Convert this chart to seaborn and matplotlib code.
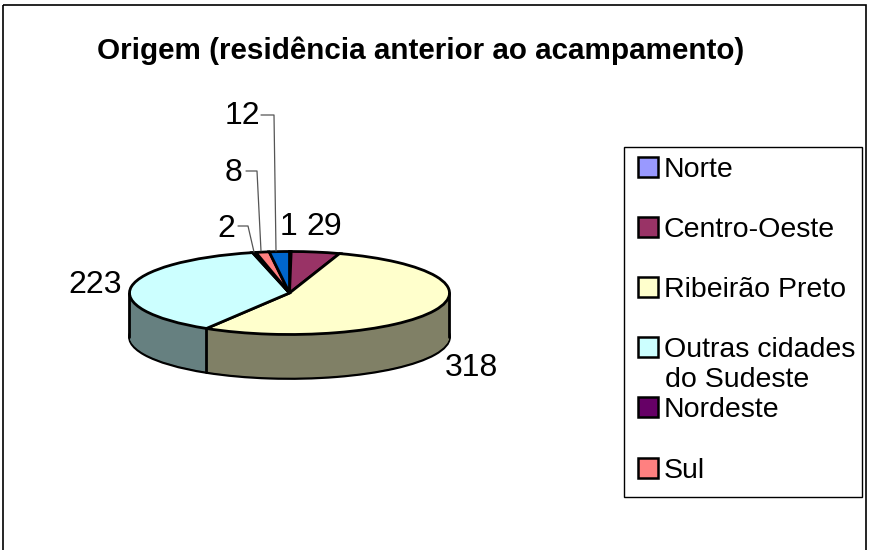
import numpy as np
import matplotlib
matplotlib.use("Agg")
import matplotlib.pyplot as plt
from matplotlib.patches import Rectangle
import seaborn as sns

title = "Origem (residência anterior ao acampamento)"
categories = ["Norte", "Centro-Oeste", "Ribeirão Preto", "Outras cidades", "Nordeste", "Sul", ""]
values = [1, 29, 318, 223, 2, 8, 12]
top_colors = ["#9999FF", "#993366", "#FFFFCC", "#CCFFFF", "#660066", "#FF8080", "#0066CC"]
side_colors = ["#4C4C80", "#4C1A33", "#808066", "#668080", "#330033", "#804040", "#003366"]

W, H = 869, 550
CX, CY, RX, RY, DEPTH = 289.5, 293.0, 160.0, 41.5, 44.0

sns.set_theme(style="white")
plt.rcParams["font.family"] = ["Liberation Sans", "DejaVu Sans"]
FS_TITLE, FS_LEGEND, FS_LABEL = 21.3, 20.5, 23.0

fig = plt.figure(figsize=(W / 100, H / 100), dpi=100, facecolor="white")
ax = fig.add_axes([0, 0, 1, 1])
top_pal = sns.color_palette(top_colors)
side_pal = sns.color_palette(side_colors)
d = DEPTH / RY

# extruded wall: stacked pies
ax.pie(values, colors=side_pal, startangle=90, counterclock=False, center=(0, -d),
       wedgeprops=dict(edgecolor="black", linewidth=2))
for k in np.arange(d - 0.02, 0, -0.02):
    ax.pie(values, colors=side_pal, startangle=90, counterclock=False, center=(0, -k),
           wedgeprops=dict(linewidth=0))
# wall outlines
cum = np.cumsum(values) / np.sum(values) * 2 * np.pi
sep = cum[2]
ax.plot([np.sin(sep)] * 2, [np.cos(sep), np.cos(sep) - d], color="black", lw=2)
for sx in (-1, 1):
    ax.plot([sx, sx], [0, -d], color="black", lw=2)
wedges, _ = ax.pie(values, colors=top_pal, startangle=90, counterclock=False,
                   wedgeprops=dict(edgecolor="black", linewidth=2))
ax.set_aspect("auto")
ax.set_xlim(-CX / RX, (W - CX) / RX)
ax.set_ylim((CY - H) / RY, CY / RY)
ax.axis("off")

ov = fig.add_axes([0, 0, 1, 1], facecolor="none")
ov.set_xlim(0, W)
ov.set_ylim(H, 0)
ov.axis("off")

ov.add_patch(Rectangle((3, 5), 863, 560, fill=False, edgecolor="black", lw=1.2, clip_on=True))
ov.text(421, 51, title, ha="center", va="center", fontsize=FS_TITLE, fontweight="bold", color="black")

# data labels
labels = [("12", 242, 116), ("8", 234, 173), ("2", 226, 229), ("1", 288, 227),
          ("29", 324, 227), ("223", 95, 285), ("318", 471, 368)]
for s, x, y in labels:
    ov.text(x, y, s, ha="center", va="center", fontsize=FS_LABEL, color="black")
for xs, ys in [([261, 274, 276], [115, 115, 251]),
               ([246, 257, 261], [171, 171, 251]),
               ([238, 248, 254], [226, 226, 252])]:
    ov.plot(xs, ys, color="#555555", lw=0.9)

# legend
ov.add_patch(Rectangle((624, 147), 238, 350, facecolor="white", edgecolor="black", lw=1.0))
leg = ov.legend(wedges[:6], categories[:6], loc="upper left",
                bbox_to_anchor=(632, 151), bbox_transform=ov.transData,
                frameon=False, fontsize=FS_LEGEND, borderpad=0.2, borderaxespad=0,
                handlelength=0.72, handleheight=0.7, handletextpad=0.2,
                labelspacing=1.2, labelcolor="black")
for h in leg.legend_handles:
    h.set_linewidth(1.8)
ov.text(665, 380, "do Sudeste", ha="left", va="center", fontsize=FS_LEGEND, color="black")

fig.savefig("out.png", dpi=100)
